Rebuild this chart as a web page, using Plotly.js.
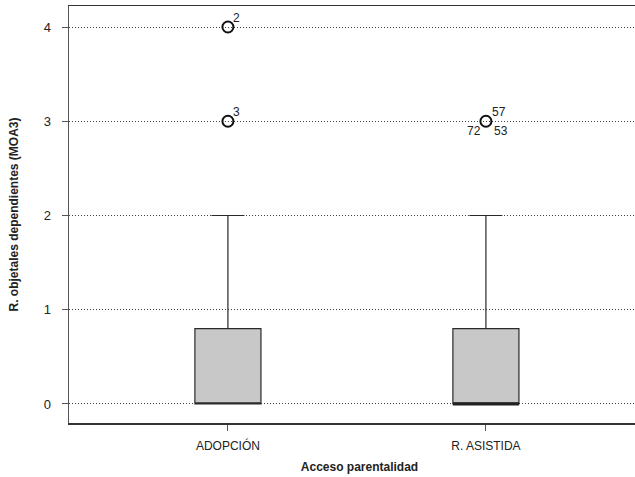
<!DOCTYPE html>
<html>
<head>
<meta charset="utf-8">
<script src="https://cdn.plot.ly/plotly-3.0.1.min.js"></script>
<style>html,body{margin:0;padding:0;background:#fff;overflow:hidden;}#wrap{width:635px;height:477px;overflow:hidden;}#chart{width:650px;height:477px;}</style>
</head>
<body>
<div id="wrap"><div id="chart"></div></div>
<script>
const categories = ["ADOPCIÓN", "R. ASISTIDA"];
const q1 = [0, 0];
const median = [0, 0];
const q3 = [0.8, 0.8];
const lowerFence = [0, 0];
const upperFence = [2, 2];
const outlierCat = [0, 0, 1];
const outlierVal = [4, 3, 3];
const outlierLabels = [["2"], ["3"], ["57", "72", "53"]];
const thickMedian = [false, true];

const boxWidth = 0.256;
const font = "Liberation Sans, Arial, sans-serif";

const traces = categories.map((c, i) => ({
  type: "box",
  x: [i],
  q1: [q1[i]], median: [median[i]], q3: [q3[i]],
  lowerfence: [lowerFence[i]], upperfence: [upperFence[i]],
  width: boxWidth,
  whiskerwidth: 0.5,
  fillcolor: "#c8c8c8",
  line: {color: "#2a2a2a", width: 1.2},
  boxpoints: false,
  hoverinfo: "skip",
  showlegend: false
}));

categories.forEach((c, i) => {
  if (thickMedian[i]) {
    traces.push({
      type: "scatter", mode: "lines",
      x: [i - boxWidth / 2, i + boxWidth / 2],
      y: [median[i], median[i]],
      line: {color: "#222", width: 3},
      hoverinfo: "skip", showlegend: false
    });
  }
});

traces.push({
  type: "scatter", mode: "markers",
  x: outlierCat, y: outlierVal,
  marker: {symbol: "circle-open", size: 11, color: "#111", line: {width: 2, color: "#111"}},
  hoverinfo: "skip", showlegend: false
});

const shifts = [[9, 9], [-16, -10], [11, -10]];
const annotations = [];
outlierCat.forEach((c, k) => {
  outlierLabels[k].forEach((lab, j) => {
    const s = outlierLabels[k].length === 1 ? [9, 9] : shifts[j];
    annotations.push({
      x: c, y: outlierVal[k], text: lab, showarrow: false,
      xshift: s[0] + (lab.length > 1 ? 4 : 0), yshift: s[1],
      font: {family: font, size: 12, color: "#222"}
    });
  });
});

const layout = {
  width: 650, height: 477,
  margin: {l: 69, r: 0, t: 6, b: 54},
  paper_bgcolor: "#fff", plot_bgcolor: "#fff",
  font: {family: font, size: 12, color: "#222"},
  xaxis: {
    range: [-0.616, 1.636],
    tickvals: [0, 1], ticktext: categories,
    showgrid: false, zeroline: false,
    showline: true, mirror: true, linecolor: "#333", linewidth: 1.5,
    ticks: "outside", ticklen: 6, tickcolor: "#555", tickwidth: 1,
    ticklabelstandoff: 5,
    tickfont: {family: font, size: 12, color: "#222"},
    title: {text: "<b>Acceso parentalidad</b>", font: {family: font, size: 12, color: "#222"}, standoff: 10}
  },
  yaxis: {
    range: [-0.202, 4.223],
    tickvals: [0, 1, 2, 3, 4],
    showgrid: true, gridcolor: "#444", griddash: "1px,2px", gridwidth: 1,
    zeroline: false,
    showline: true, mirror: false, linecolor: "#555", linewidth: 1.5,
    ticks: "outside", ticklen: 6, tickcolor: "#555", tickwidth: 1,
    ticklabelstandoff: 8,
    tickfont: {family: font, size: 13, color: "#222"},
    title: {text: "<b>R. objetales dependientes (MOA3)</b>", font: {family: font, size: 12, color: "#222"}, standoff: 22}
  },
  annotations: annotations
};

Plotly.newPlot("chart", traces, layout, {staticPlot: true, displayModeBar: false});
</script>
</body>
</html>
